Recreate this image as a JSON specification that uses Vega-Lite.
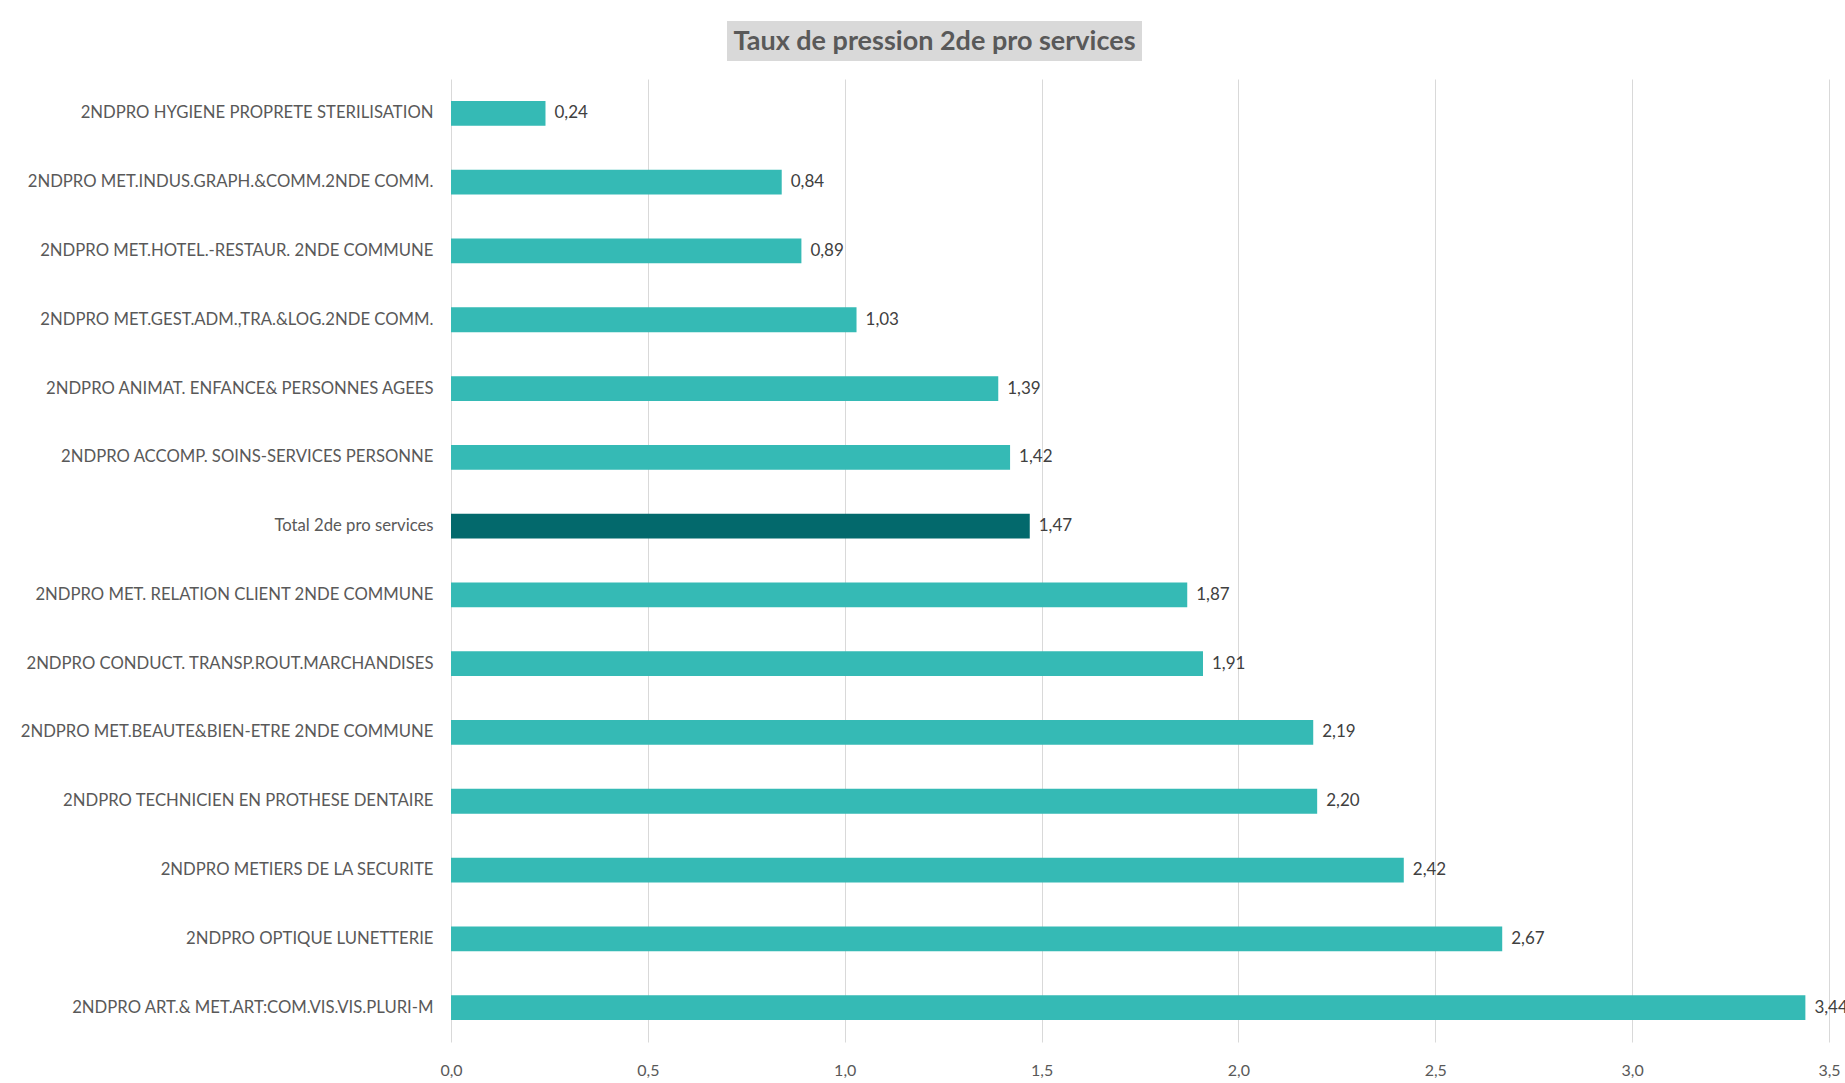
{
  "$schema": "https://vega.github.io/schema/vega-lite/v6.json",
  "padding": {"left": 20, "top": 21, "right": 0, "bottom": 0},
  "background": "#ffffff",
  "config": {
    "locale": {"number": {"decimal": ",", "thousands": " ", "grouping": [3], "currency": ["", " €"]}},
    "font": "Lato",
    "view": {"stroke": null}
  },
  "spacing": 18,
  "datasets": {
    "bars": [
      {"formation": "2NDPRO HYGIENE PROPRETE STERILISATION", "taux": 0.24, "type": "formation"},
      {"formation": "2NDPRO MET.INDUS.GRAPH.&COMM.2NDE COMM.", "taux": 0.84, "type": "formation"},
      {"formation": "2NDPRO MET.HOTEL.-RESTAUR. 2NDE COMMUNE", "taux": 0.89, "type": "formation"},
      {"formation": "2NDPRO MET.GEST.ADM.,TRA.&LOG.2NDE COMM.", "taux": 1.03, "type": "formation"},
      {"formation": "2NDPRO ANIMAT. ENFANCE& PERSONNES AGEES", "taux": 1.39, "type": "formation"},
      {"formation": "2NDPRO ACCOMP. SOINS-SERVICES PERSONNE", "taux": 1.42, "type": "formation"},
      {"formation": "Total 2de pro services", "taux": 1.47, "type": "total"},
      {"formation": "2NDPRO MET. RELATION CLIENT 2NDE COMMUNE", "taux": 1.87, "type": "formation"},
      {"formation": "2NDPRO CONDUCT. TRANSP.ROUT.MARCHANDISES", "taux": 1.91, "type": "formation"},
      {"formation": "2NDPRO MET.BEAUTE&BIEN-ETRE 2NDE COMMUNE", "taux": 2.19, "type": "formation"},
      {"formation": "2NDPRO TECHNICIEN EN PROTHESE DENTAIRE", "taux": 2.20, "type": "formation"},
      {"formation": "2NDPRO METIERS DE LA SECURITE", "taux": 2.42, "type": "formation"},
      {"formation": "2NDPRO OPTIQUE LUNETTERIE", "taux": 2.67, "type": "formation"},
      {"formation": "2NDPRO ART.& MET.ART:COM.VIS.VIS.PLURI-M", "taux": 3.44, "type": "formation"}
    ]
  },
  "vconcat": [
    {
      "spacing": 0,
      "hconcat": [
        {
          "width": 276,
          "height": 40,
          "data": {"values": [{"t": ""}]},
          "mark": {"type": "text", "opacity": 0},
          "encoding": {"text": {"field": "t"}}
        },
        {
          "width": 415,
          "height": 40,
          "view": {"fill": "#d9d9d9", "stroke": null},
          "data": {"values": [{"t": "Taux de pression 2de pro services"}]},
          "mark": {"type": "text", "font": "Lato", "fontWeight": "bold", "fontSize": 27, "color": "#595959", "align": "center", "baseline": "middle", "dy": 1},
          "encoding": {"text": {"field": "t"}}
        }
      ]
    },
    {
      "width": 1378,
      "height": 963,
      "data": {"name": "bars"},
      "encoding": {
        "y": {
          "field": "formation", "type": "nominal", "sort": null,
          "scale": {"paddingInner": 0.64, "paddingOuter": 0.32},
          "axis": {"title": null, "ticks": false, "domain": false, "labelFontSize": 16.7, "labelColor": "#595959", "labelPadding": 18, "labelFont": "Lato", "labelLimit": 700}
        },
        "x": {
          "field": "taux", "type": "quantitative",
          "scale": {"domain": [0, 3.5], "nice": false},
          "axis": {"title": null, "values": [0, 0.5, 1, 1.5, 2, 2.5, 3, 3.5], "format": ".1f", "grid": true, "gridColor": "#d9d9d9", "gridWidth": 1, "domain": false, "ticks": false, "labelFlush": false, "labelOverlap": false, "labelFontSize": 16, "labelColor": "#595959", "labelPadding": 20, "labelFont": "Lato"}
        }
      },
      "layer": [
        {
          "mark": {"type": "bar"},
          "encoding": {
            "color": {"field": "type", "type": "nominal", "scale": {"domain": ["formation", "total"], "range": ["#35BAB5", "#03696C"]}, "legend": null}
          }
        },
        {
          "mark": {"type": "text", "align": "left", "baseline": "middle", "dx": 9, "fontSize": 17, "color": "#404040", "font": "Lato"},
          "encoding": {"text": {"field": "taux", "type": "quantitative", "format": ".2f"}}
        }
      ]
    }
  ]
}
